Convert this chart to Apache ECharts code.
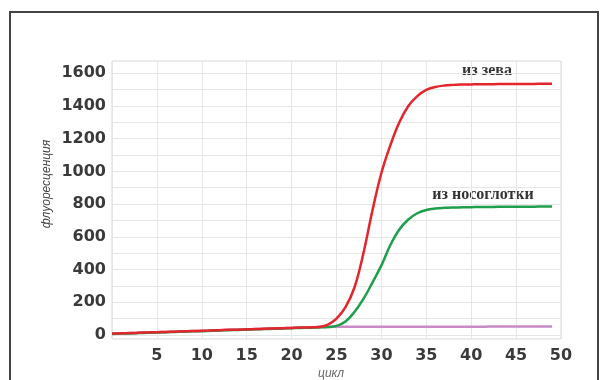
<!DOCTYPE html>
<html>
<head>
<meta charset="utf-8">
<script src="https://cdn.jsdelivr.net/npm/echarts@6/dist/echarts.min.js"></script>
<style>
html,body{margin:0;padding:0;background:#fff;}
#c{width:608px;height:380px;}
</style>
</head>
<body>
<div id="c"></div>
<script>
// Cycles
var cycles = [0,1,2,3,4,5,6,7,8,9,10,11,12,13,14,15,16,17,18,19,20,21,22,23,24,25,26,27,28,29,30,31,32,33,34,35,36,37,38,39,40,41,42,43,44,45,46,47,48,49];
// Fluorescence, "из зева" (throat)
var zevaValues = [8,10,11,13,15,17,18,20,22,24,25,27,29,31,32,34,36,38,39,41,43,45,46,49,62,100,170,290,500,760,990,1160,1300,1400,1460,1498,1516,1525,1529,1531,1532,1533,1533,1534,1534,1535,1535,1535,1536,1536];
// Fluorescence, "из носоглотки" (nasopharynx)
var nosoValues = [6,8,9,11,13,15,16,18,20,22,23,25,27,29,30,32,34,36,37,39,41,43,44,46,48,55,82,140,220,320,425,550,645,706,744,764,773,777,779,780,781,782,782,783,783,784,784,784,785,785];
// Negative control
var controlValues = [8,10,11,13,15,17,18,20,22,24,25,27,29,31,32,34,36,38,39,41,43,45,46,48,49,50,50,50,50,50,50,50,50,50,50,50,50,50,50,50,50,50,51,51,51,51,51,51,51,51];
// Tick labels
var xTickLabels = [5,10,15,20,25,30,35,40,45,50];
var yTickLabels = [0,200,400,600,800,1000,1200,1400,1600];
var yAxisTitle = 'флуоресценция';
var xAxisTitle = 'цикл';
var label1 = 'из зева';
var label2 = 'из носоглотки';

function pairs(xs, ys){ return xs.map(function(x,i){ return [x, ys[i]]; }); }

var gridColor = '#e6e6e6';
var labelStyle = {color:'#3a3a3a', fontFamily:'DejaVu Sans', fontSize:16, fontWeight:'bold'};
var chart = echarts.init(document.getElementById('c'), null, {renderer:'canvas'});
chart.setOption({
  backgroundColor: '#ffffff',
  animation: false,
  grid: {left:112, right:47, top:61, bottom:41, show:true, borderColor:'#d8d8d8', borderWidth:1, backgroundColor:'transparent'},
  xAxis: {
    type:'value', min:0, max:50, interval:5,
    axisLine:{show:false}, axisTick:{show:false},
    splitLine:{show:true, lineStyle:{color:gridColor, width:1}},
    axisLabel:Object.assign({margin:9,
      formatter:function(v){ return xTickLabels.indexOf(v) >= 0 ? String(v) : ''; }}, labelStyle)
  },
  yAxis: {
    type:'value', min:-25, max:1675, interval:25,
    axisLine:{show:false}, axisTick:{show:false},
    splitLine:{show:true, lineStyle:{color:['transparent', gridColor, 'transparent', 'transparent'], width:1}},
    axisLabel:Object.assign({margin:6,
      formatter:function(v){ return yTickLabels.indexOf(v) >= 0 ? String(v) : ''; }}, labelStyle)
  },
  series: [
    {type:'line', name:'control', data:pairs(cycles, controlValues), showSymbol:false, smooth:0.4,
     lineStyle:{color:'#c98ac8', width:2.5}, z:2},
    {type:'line', name:label2, data:pairs(cycles, nosoValues), showSymbol:false, smooth:0.4,
     lineStyle:{color:'#1f9e4b', width:2.5}, z:3},
    {type:'line', name:label1, data:pairs(cycles, zevaValues), showSymbol:false, smooth:0.4,
     lineStyle:{color:'#e3252c', width:2.5}, z:4}
  ],
  graphic: [
    {type:'rect', shape:{x:10, y:12, width:588, height:380}, style:{fill:'none', stroke:'#444', lineWidth:2}, silent:true},
    {type:'text', x:47, y:184, rotation:Math.PI/2, style:{text:yAxisTitle, fill:'#444', font:'italic 12px "Liberation Sans"', textAlign:'center', textVerticalAlign:'middle'}},
    {type:'text', x:331, y:374, style:{text:xAxisTitle, fill:'#666', font:'italic 12px "Liberation Sans"', textAlign:'center', textVerticalAlign:'middle'}},
    {type:'text', x:487, y:71, style:{text:label1, fill:'#333', font:'bold 16px "Liberation Serif"', textAlign:'center', textVerticalAlign:'middle'}},
    {type:'text', x:483, y:195, style:{text:label2, fill:'#333', font:'bold 16px "Liberation Serif"', textAlign:'center', textVerticalAlign:'middle'}}
  ]
});
</script>
</body>
</html>
